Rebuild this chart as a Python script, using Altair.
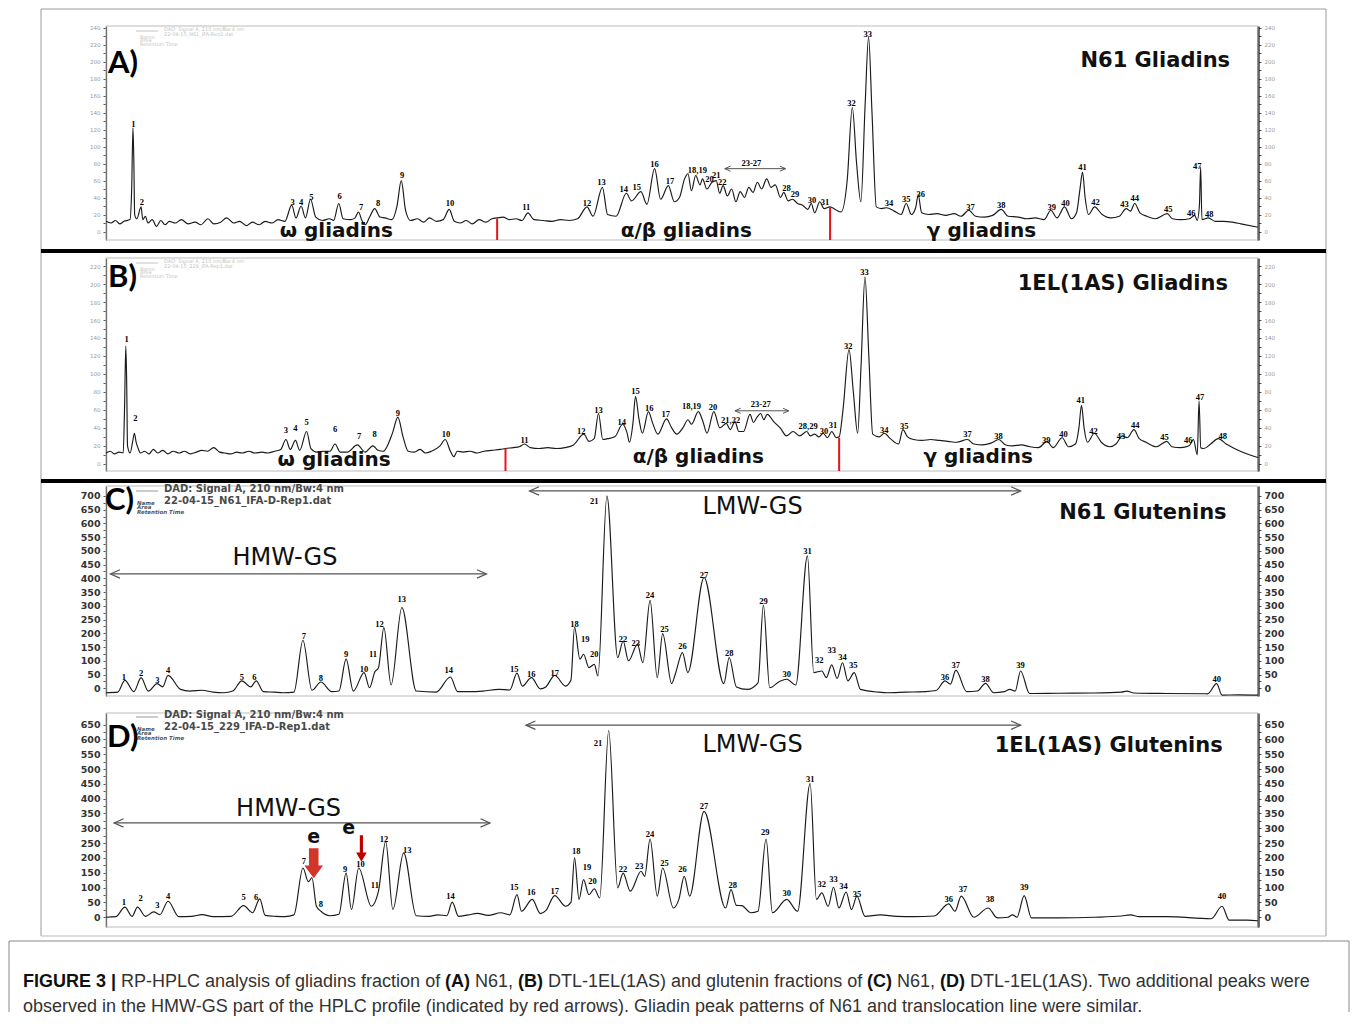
import altair as alt
import pandas as pd

# ============ DATA ============
# Panel A: N61 gliadins - trace vertices (retention time, mAU)
A_trace = [(5.4,12),(6.0,10),(6.5,13),(7.0,9),(7.5,12),(8.2,14),(8.4,50),(8.55,122),(8.65,85),(8.75,20),(9.0,15),(9.5,29),(9.7,14),(10.0,18),(10.3,10),(10.8,14),(11.3,6),(11.8,13),(12.3,8),(12.8,12),(13.5,10),(14.2,14),(15.0,9),(15.8,11),(16.5,8),(17.3,15),(18.0,9),(18.8,11),(19.5,16),(20.3,10),(21.0,12),(21.8,7),(22.5,11),(23.3,8),(24.0,12),(24.8,10),(25.5,14),(26.3,12),(27.1,31),(27.6,16),(28.2,30),(28.7,16),(29.3,38),(29.9,17),(30.7,13),(31.5,15),(32.0,13),(32.6,33),(33.1,15),(34.0,14),(34.5,16),(34.9,23),(35.3,13),(35.7,8),(36.2,17),(36.8,27),(37.4,17),(38.0,16),(38.8,14),(39.4,30),(39.9,60),(40.4,25),(41.0,13),(41.8,15),(42.5,11),(43.2,16),(44.0,12),(44.8,14),(45.5,26),(46.1,12),(46.8,10),(47.5,13),(48.2,9),(49.0,14),(49.8,11),(50.5,15),(51.1,16),(51.8,17),(52.5,14),(53.3,15),(54.0,13),(54.7,22),(55.4,14),(56.5,13),(57.5,12),(58.5,14),(59.5,13),(60.5,15),(61.6,29),(62.3,18),(63.4,52),(64.0,20),(65.0,18),(66.2,45),(66.8,36),(67.9,47),(68.6,32),(69.5,74),(70.2,38),(71.1,54),(71.8,35),(72.4,40),(73.0,62),(73.4,68),(73.8,48),(74.3,66),(74.8,55),(75.1,62),(75.6,50),(76.2,58),(76.7,60),(77.1,45),(77.5,54),(78.0,42),(78.5,50),(79.0,35),(79.5,47),(80.0,40),(80.5,52),(81.0,46),(81.5,58),(82.0,50),(82.6,62),(83.1,52),(83.6,55),(84.2,40),(84.6,46),(85.1,36),(85.6,38),(86.2,33),(86.8,31),(87.4,26),(87.8,33),(88.2,22),(88.8,35),(89.3,27),(90.0,29),(90.6,26),(91.3,23),(92.0,60),(92.6,146),(93.1,80),(93.6,35),(94.1,150),(94.5,229),(94.9,140),(95.4,29),(96.0,27),(96.6,28),(97.5,24),(98.3,20),(98.9,33),(99.5,20),(100.0,28),(100.3,43),(100.7,22),(101.5,20),(102.5,21),(103.5,19),(104.5,21),(105.3,18),(106.2,25),(107.0,18),(108.0,17),(109.0,19),(110.0,26),(110.8,18),(112.0,17),(113.0,15),(114.0,16),(115.0,14),(115.8,25),(116.5,16),(117.4,29),(118.2,15),(118.8,22),(119.2,50),(119.5,70),(119.8,40),(120.2,20),(120.9,29),(121.8,20),(122.8,16),(123.8,18),(124.6,27),(125.1,24),(125.6,33),(126.2,22),(127.0,18),(128.0,15),(129.4,21),(130.0,15),(131.0,14),(132.0,15),(132.6,19),(132.9,13),(133.15,30),(133.3,76),(133.45,14),(134.2,16),(135.0,12),(136.0,12),(137.0,11),(138.0,9),(140.0,5)]
A_peak_names = ["1","2","3","4","5","6","7","8","9","10","11","12","13","14","15","16","17","18,19","20","21","22","28","29","30","31","32","33","34","35","36","37","38","39","40","41","42","43","44","45","46","47","48"]
A_peak_times = [8.6,9.6,27.2,28.2,29.4,32.7,35.2,37.2,40.0,45.6,54.5,61.6,63.3,65.9,67.4,69.5,71.3,74.5,75.9,76.7,77.4,84.9,85.9,87.9,89.4,92.5,94.4,96.9,98.9,100.6,106.4,110.0,115.9,117.5,119.5,121.0,124.4,125.6,129.5,132.2,132.9,134.3]
A_peak_label_y = [127,34.5,34.5,35,41,42,29,33,67,33,29,33,58,50,52,80,60,72,62,66,58,51,44,37,35,151,233,34,38,44,29,31,29,33,76,35,32,40,26,22,77,21]

# Panel B: DTL-1EL(1AS) gliadins
B_trace = [(6.2,12),(6.7,14),(7.2,11),(7.7,13),(8.2,12),(8.35,60),(8.5,131),(8.6,92),(8.7,20),(9.0,12),(9.3,25),(9.5,34),(9.7,24),(9.9,18),(10.2,12),(10.7,14),(11.2,11),(11.7,16),(12.2,12),(12.8,15),(13.4,11),(14.0,14),(14.7,12),(15.3,14),(16.0,11),(16.7,13),(17.3,15),(18.0,14),(18.7,18),(19.4,13),(20.0,12),(20.7,11),(21.4,13),(22.0,12),(22.8,14),(23.5,12),(24.3,13),(25.0,12),(25.8,14),(26.5,16),(27.1,27),(27.6,16),(28.2,26),(28.7,15),(29.5,36),(30.0,17),(30.7,13),(31.5,14),(32.2,14),(32.8,22),(33.4,13),(34.2,13),(35.4,21),(36.3,13),(37.2,20),(37.8,15),(38.4,14),(39.5,35),(40.1,52),(40.7,30),(41.3,14),(42.0,13),(42.7,16),(43.3,12),(44.0,14),(45.0,20),(45.6,27),(46.2,14),(46.6,8),(47.0,14),(47.7,13),(48.5,14),(49.3,12),(50.1,14),(51.0,15),(52.0,16),(52.6,17),(53.5,18),(54.2,19),(54.8,22),(55.5,18),(56.5,17),(57.5,18),(58.5,17),(59.5,18),(60.5,21),(61.7,33),(62.3,25),(62.9,28),(63.4,56),(63.9,27),(64.5,28),(65.3,30),(66.2,44),(66.7,35),(67.0,24),(67.4,45),(67.7,75),(68.1,50),(68.5,34),(69.2,58),(69.7,45),(70.3,33),(71.3,50),(71.9,40),(72.5,33),(73.2,40),(73.8,49),(74.2,44),(75.0,58),(75.5,48),(76.0,34),(76.8,58),(77.5,40),(78.25,45),(78.7,38),(79.25,47),(79.7,36),(80.25,36),(81.0,55),(81.4,46),(81.75,51),(82.25,56),(82.6,49),(83.0,55),(83.75,47),(84.5,40),(85.25,31),(86.0,36),(86.75,31),(87.6,36),(88.0,31),(88.5,33),(89.0,30),(89.5,34),(90.0,29),(90.5,36),(91.0,29),(91.35,30),(91.8,60),(92.5,127),(93.0,80),(93.5,34),(93.9,110),(94.35,208),(94.8,120),(95.25,33),(96.0,30),(96.6,34),(97.3,28),(98.25,22),(98.75,38),(99.3,30),(100.0,27),(101.0,26),(102.0,27),(103.0,26),(104.0,25),(105.0,24),(106.25,27),(107.0,22),(108.0,21),(109.0,23),(109.9,27),(110.7,21),(111.5,20),(112.5,21),(113.5,19),(114.5,18),(115.5,25),(116.2,18),(117.25,29),(118.0,19),(118.8,22),(119.2,40),(119.5,65),(119.8,40),(120.2,24),(121.0,34),(121.8,24),(122.8,19),(123.5,22),(124.25,31),(124.8,29),(125.6,38),(126.2,28),(127.0,24),(128.2,19),(129.4,25),(130.0,19),(131.0,18),(132.0,20),(132.5,27),(132.95,10),(133.15,70),(133.35,18),(133.7,17),(134.5,22),(135.4,28),(136.3,22),(137.5,16),(139.0,10),(140.0,7)]
B_peak_names = ["1","2","3","4","5","6","7","8","9","10","11","12","13","14","15","16","17","18,19","20","21,22","28,29","30","31","32","33","34","35","37","38","39","40","41","42","43","44","45","46","47","48"]
B_peak_times = [8.6,9.6,27.1,28.2,29.5,32.8,35.6,37.4,40.1,45.7,54.8,61.4,63.4,66.1,67.7,69.3,71.2,74.2,76.7,78.75,87.75,89.6,90.65,92.4,94.3,96.6,98.9,106.25,109.85,115.4,117.4,119.4,120.9,124.1,125.75,129.15,131.9,133.25,135.9]
B_peak_label_y = [139,51,38,40,46,39,31,33,57,33,26,37,60,47,81,62,55,64,63,49,42,37,43,131,213,38,42,33,31,26,33,71,37,31,43,30,27,74,31]

# Panel C: N61 glutenins
C_trace = [(41.05,-16),(41.7,-14),(42.1,29),(42.6,-12),(43.0,39),(43.4,-10),(43.9,17),(44.2,5),(44.5,47),(45.2,-4),(45.7,-10),(46.4,-7),(47.0,-14),(47.6,-16),(48.1,-10),(48.6,27),(49.1,5),(49.4,27),(49.8,-12),(50.4,-14),(50.9,-16),(51.5,-14),(52.0,175),(52.5,-7),(53.0,23),(53.6,-12),(54.0,-10),(54.4,106),(54.8,-10),(55.4,57),(55.7,2),(56.0,60),(56.2,75),(56.5,221),(56.9,12),(57.5,294),(58.3,-10),(59.4,-14),(60.2,41),(60.6,-12),(61.3,-12),(62.0,-10),(62.9,-4),(63.5,-6),(63.9,55),(64.2,8),(64.7,39),(65.2,-2),(65.5,5),(66.0,47),(66.6,8),(66.9,30),(67.1,223),(67.4,106),(67.6,124),(67.9,75),(68.2,87),(68.4,45),(68.9,700),(69.5,112),(69.8,172),(70.1,100),(70.6,160),(70.9,93),(71.3,320),(71.7,39),(72.0,199),(72.5,17),(72.7,51),(73.1,130),(73.4,57),(74.3,403),(75.4,17),(75.7,112),(76.1,5),(76.7,-4),(77.3,20),(77.6,303),(77.95,2),(78.5,25),(78.9,33),(79.4,12),(80.05,482),(80.4,57),(80.85,63),(81.1,39),(81.4,85),(81.7,36),(82.0,93),(82.3,27),(82.65,57),(83.0,-4),(84.0,-14),(84.5,-16),(85.5,-14),(86.6,-12),(87.2,-8),(87.7,27),(88.0,15),(88.3,66),(88.9,-12),(89.5,-10),(89.95,18),(90.4,-16),(91.0,-12),(91.3,-4),(91.6,-10),(91.9,63),(92.4,-19),(94.0,-18),(96.0,-17),(97.5,-14),(97.8,-10),(98.2,-17),(100.0,-19),(102.3,-20),(102.8,17),(103.1,-25),(104.0,-24),(105.1,-25)]
C_peak_names = [str(i) for i in range(1, 41)]
C_peak_times = [42.05,43.0,43.9,44.5,48.6,49.3,52.05,53.0,54.4,55.4,55.9,56.25,57.5,60.1,63.75,64.7,66.0,67.1,67.7,68.2,68.2,69.8,70.5,71.3,72.1,73.1,74.3,75.7,77.6,78.9,80.05,80.7,81.4,82.0,82.6,87.7,88.3,89.95,91.9,102.8]
C_peak_label_y = [42,57,30,67,41,41,190,36,123,72,124,235,324,66,69,53,57,233,178,124,682,181,166,339,217,154,411,127,316,51,500,103,140,114,84,41,84,33,84,35]

# Panel D: DTL-1EL(1AS) glutenins
D_trace = [(41.05,0),(41.6,2),(42.1,34),(42.5,3),(42.8,34),(43.25,3),(43.7,18),(44.05,9),(44.5,54),(45.1,2),(45.8,3),(46.4,9),(47.0,2),(48.0,3),(48.7,39),(49.2,15),(49.6,62),(49.9,6),(50.5,3),(51.0,2),(51.5,8),(52.0,166),(52.3,120),(52.5,133),(52.75,37),(53.0,20),(53.5,5),(54.0,10),(54.4,149),(54.7,26),(55.1,166),(55.8,37),(56.2,88),(56.6,256),(57.0,26),(57.6,217),(58.3,5),(59.0,3),(59.5,8),(60.0,5),(60.3,51),(60.65,3),(61.2,8),(61.7,13),(62.3,6),(63.0,15),(63.5,8),(63.9,76),(64.15,20),(64.75,60),(65.2,12),(65.5,22),(66.0,73),(66.6,37),(66.9,50),(67.1,200),(67.35,60),(67.6,127),(67.9,76),(68.2,96),(68.5,65),(69.0,630),(69.5,99),(69.8,149),(70.2,88),(70.8,155),(71.0,138),(71.3,264),(71.7,71),(72.0,166),(72.6,31),(72.9,60),(73.2,138),(73.5,71),(74.3,357),(75.5,31),(75.8,93),(76.1,40),(76.4,39),(76.9,15),(77.3,20),(77.75,264),(78.1,15),(78.9,60),(79.5,20),(80.2,451),(80.55,60),(80.85,82),(81.2,37),(81.5,101),(81.8,31),(82.2,85),(82.5,26),(82.8,71),(83.25,3),(84.1,8),(85.0,3),(86.0,2),(87.1,4),(87.9,45),(88.25,20),(88.6,71),(89.3,0),(90.1,31),(90.6,-2),(91.2,0),(91.45,8),(91.7,0),(92.1,73),(92.5,-2),(94.0,-2),(96.0,0),(97.5,4),(98.0,8),(98.5,2),(100.0,2),(102.5,-5),(103.1,37),(103.5,-10),(104.5,-10),(105.1,-12)]
D_peak_names = [str(i) for i in range(1, 41)]
D_peak_times = [42.05,42.97,43.9,44.5,48.7,49.4,52.05,53.0,54.35,55.2,56.0,56.5,57.8,60.2,63.75,64.7,66.0,67.2,67.8,68.1,68.4,69.8,70.7,71.3,72.1,73.1,74.3,75.9,77.7,78.9,80.2,80.84,81.5,82.05,82.8,87.9,88.7,90.2,92.1,103.1]
D_peak_label_y = [51,65,40,71,67,67,189,45,164,180,110,264,226,71,101,85,90,222,170,121,588,161,172,282,183,161,376,110,287,82,467,112,130,107,80,62,96,60,101,71]

# Region annotations
GLI_regions = ["\u03c9 gliadins", "\u03b1/\u03b2 gliadins", "\u03b3 gliadins"]
A_region_t = [32.3, 73.2, 107.7]
A_region_y = [0.6, 0.6, 0.6]
B_region_t = [32.7, 75.0, 107.5]
B_region_y = [4.0, 8.0, 8.0]
A_bound_t = [51.1, 90.0]
A_bound_top = [15, 29]
B_bound_t = [52.6, 91.35]
B_bound_top = [17, 29]

# Axis tick values
GLI_xticks = list(range(6, 141, 2))
GLU_xticks = list(range(42, 106, 1))
A_yticks = list(range(0, 241, 10))
B_yticks = list(range(0, 221, 10))
C_yticks = list(range(0, 701, 25))
D_yticks = list(range(0, 651, 25))

CAPTION_LINE1 = [("FIGURE 3 |", True), ("RP-HPLC analysis of gliadins fraction of", False), ("(A)", True), ("N61,", False),
                 ("(B)", True), ("DTL-1EL(1AS) and glutenin fractions of", False), ("(C)", True), ("N61,", False),
                 ("(D)", True), ("DTL-1EL(1AS). Two additional peaks were", False)]
CAPTION_LINE2 = "observed in the HMW-GS part of the HPLC profile (indicated by red arrows). Gliadin peak patterns of N61 and translocation line were similar."

# ============ LAYOUT ============
W = 1152
H = 901
DUMMY = pd.DataFrame({"k": [0]})
INK = "#1a1a1a"


def pix_rule(x1, x2, y1, y2, color="#000", width=1.0):
    return alt.Chart(DUMMY).mark_rule(color=color, strokeWidth=width).encode(
        x=alt.value(x1), x2=alt.value(x2), y=alt.value(y1), y2=alt.value(y2))


def pix_rect(x1, x2, y1, y2, color="#bbb", width=1.0):
    return alt.Chart(DUMMY).mark_rect(fillOpacity=0, stroke=color, strokeWidth=width).encode(
        x=alt.value(x1), x2=alt.value(x2), y=alt.value(y1), y2=alt.value(y2))


def pix_text(txt, x, y, **kw):
    return alt.Chart(DUMMY).mark_text(text=txt, align="left", baseline="middle", **kw).encode(
        x=alt.value(x), y=alt.value(y))


def panel(trace, names, times, laby, xdom, ydom, top, bot, xticks, yticks, gli, extras):
    xs = alt.Scale(domain=xdom, range=[0, W], nice=False, zero=False)
    ys = alt.Scale(domain=ydom, range=[bot, top], nice=False, zero=False)
    step = 10 if gli else 5
    ystep = 20 if gli else 50
    if gli:
        lab_style = dict(labelFontSize=5.5, labelColor="#9a9a9a", labelFont="DejaVu Sans")
    else:
        lab_style = dict(labelFontSize=9.5, labelColor="#333", labelFont="DejaVu Sans", labelFontWeight="bold")
    xaxis = alt.Axis(orient="bottom", offset=bot - H, values=xticks,
                     labelExpr=f"datum.value % {step} === 0 ? datum.label : ''",
                     tickSize=3, tickColor="#555", domainColor="#333", grid=False, labelOverlap=False,
                     labelPadding=1, title="Minutes", titleFontSize=5, titleColor="#aaa",
                     titlePadding=0, titleFontWeight="normal", **lab_style)
    yl = alt.Axis(orient="left", values=yticks, labelExpr=f"datum.value % {ystep} === 0 ? datum.label : ''",
                  tickSize=3, tickColor="#555", domainColor="#222", domainWidth=1.2, grid=False,
                  labelOverlap=False, title=None, labelPadding=3, **lab_style)
    yr = alt.Axis(orient="right", values=yticks, labelExpr=f"datum.value % {ystep} === 0 ? datum.label : ''",
                  tickSize=3, tickColor="#555", domainColor="#111", domainWidth=2.2, grid=False,
                  labelOverlap=False, title=None, labelPadding=3, **lab_style)

    tr = pd.DataFrame(trace, columns=["t", "v"])
    line = alt.Chart(tr).mark_line(color=INK, strokeWidth=1.15, interpolate="monotone").encode(
        x=alt.X("t:Q", scale=xs, axis=xaxis),
        y=alt.Y("v:Q", scale=ys, axis=yl))
    lb = pd.DataFrame({"t": times, "v": laby, "n": names})
    labels = alt.Chart(lb).mark_text(font="Liberation Serif", fontWeight="bold", fontSize=8.5, color="#000").encode(
        x=alt.X("t:Q", scale=xs, axis=None),
        y=alt.Y("v:Q", scale=ys, axis=yr),
        text="n:N")
    layers = [line, labels]
    for ex in extras:
        layers.extend(ex(xs, ys))
    return alt.layer(*layers).resolve_axis(y="independent")


def texts(names, ts, vs, **kw):
    def f(xs, ys):
        df = pd.DataFrame({"t": ts, "v": vs, "n": names})
        return [alt.Chart(df).mark_text(**kw).encode(
            x=alt.X("t:Q", scale=xs, axis=None), y=alt.Y("v:Q", scale=ys, axis=None), text="n:N")]
    return f


def red_bounds(ts, tops, ymin):
    def f(xs, ys):
        df = pd.DataFrame({"t": ts, "v": tops, "v0": [ymin] * len(ts)})
        return [alt.Chart(df).mark_rule(color="#e8141b", strokeWidth=2).encode(
            x=alt.X("t:Q", scale=xs, axis=None), y=alt.Y("v:Q", scale=ys, axis=None), y2="v0:Q")]
    return f


def double_arrow(t1, t2, v, color="#555", width=1.2, head=90):
    def f(xs, ys):
        df = pd.DataFrame({"t1": [t1], "t2": [t2], "v": [v]})
        rule = alt.Chart(df).mark_rule(color=color, strokeWidth=width).encode(
            x=alt.X("t1:Q", scale=xs, axis=None), x2="t2:Q", y=alt.Y("v:Q", scale=ys, axis=None))
        lh = alt.Chart(df).mark_point(shape="M1.8,-0.8L0,0L1.8,0.8", filled=False, stroke=color,
                                      strokeWidth=width, size=head, opacity=1).encode(
            x=alt.X("t1:Q", scale=xs, axis=None), y=alt.Y("v:Q", scale=ys, axis=None))
        rh = alt.Chart(df).mark_point(shape="M-1.8,-0.8L0,0L-1.8,0.8", filled=False, stroke=color,
                                      strokeWidth=width, size=head, opacity=1).encode(
            x=alt.X("t2:Q", scale=xs, axis=None), y=alt.Y("v:Q", scale=ys, axis=None))
        return [rule, lh, rh]
    return f


def red_arrows(ts, vs, shapes, sizes, colors):
    def f(xs, ys):
        out = []
        for t, v, s, z, c in zip(ts, vs, shapes, sizes, colors):
            df = pd.DataFrame({"t": [t], "v": [v]})
            out.append(alt.Chart(df).mark_point(shape=s, filled=True, color=c, size=z, opacity=1).encode(
                x=alt.X("t:Q", scale=xs, axis=None), y=alt.Y("v:Q", scale=ys, axis=None)))
        return out
    return f


REG = dict(font="DejaVu Sans", fontWeight="bold", fontSize=20, color="#111")
TTL = dict(font="DejaVu Sans", fontWeight="bold", fontSize=21, color="#111")
GS = dict(font="DejaVu Sans", fontSize=24, color="#111")

pA = panel(A_trace, A_peak_names, A_peak_times, A_peak_label_y, [5.4, 140], [-10, 242], 0, 214,
           GLI_xticks, A_yticks, True,
           [texts(GLI_regions, A_region_t, A_region_y, **REG),
            red_bounds(A_bound_t, A_bound_top, -10),
            double_arrow(77.7, 84.8, 74, head=40, width=1.0),
            texts(["23-27"], [80.8], [81], font="Liberation Serif", fontWeight="bold", fontSize=8.5, color="#000"),
            texts(["N61 Gliadins"], [128.0], [200.8], **TTL)])

pB = panel(B_trace, B_peak_names, B_peak_times, B_peak_label_y, [6.2, 140], [-8, 229], 232, 445,
           GLI_xticks, B_yticks, True,
           [texts(GLI_regions, B_region_t, B_region_y, **REG),
            red_bounds(B_bound_t, B_bound_top, -8),
            double_arrow(79.25, 85.5, 59, head=40, width=1.0),
            texts(["23-27"], [82.25], [67], font="Liberation Serif", fontWeight="bold", fontSize=8.5, color="#000"),
            texts(["1EL(1AS) Gliadins"], [124.3], [200], **TTL)])

pC = panel(C_trace, C_peak_names, C_peak_times, C_peak_label_y, [41.05, 105.1], [-28, 736], 460, 670,
           GLU_xticks, C_yticks, False,
           [double_arrow(64.6, 91.9, 718, head=110),
            double_arrow(41.3, 62.2, 416, head=110),
            texts(["LMW-GS"], [77.0], [660], **GS),
            texts(["HMW-GS"], [51.0], [474], **GS),
            texts(["N61 Glutenins"], [98.7], [638], **TTL)])

ARROW_WIDE = "M-0.32,-1L0.32,-1L0.32,0.15L0.62,0.15L0,1L-0.62,0.15L-0.32,0.15Z"
ARROW_THIN = "M-0.12,-1L0.12,-1L0.12,0.3L0.4,0.3L0,1L-0.4,0.3L-0.12,0.3Z"
pD = panel(D_trace, D_peak_names, D_peak_times, D_peak_label_y, [41.05, 105.1], [-33, 689], 687, 901,
           GLU_xticks, D_yticks, False,
           [double_arrow(64.4, 91.9, 648, head=110),
            double_arrow(41.5, 62.4, 318, head=110),
            texts(["LMW-GS"], [77.0], [581], **GS),
            texts(["HMW-GS"], [51.2], [365], **GS),
            texts(["1EL(1AS) Glutenins"], [96.8], [578], **TTL),
            red_arrows([52.6, 55.25], [182, 232], [ARROW_WIDE, ARROW_THIN], [900, 700], ["#d2362b", "#c00000"]),
            texts(["e", "e"], [52.6, 54.55], [270, 300], font="DejaVu Sans", fontWeight="bold", fontSize=19, color="#111")])

# ---- pixel decorations: frames, separators, panel letters, instrument legends ----
deco = [
    pix_rect(0, W, 0, 214), pix_rect(0, W, 232, 445), pix_rect(0, W, 460, 670), pix_rect(0, W, 687, 901),
]
overlay = [
    pix_rule(-65, -65, -17, 910, "#9a9a9a"), pix_rule(1220, 1220, -17, 910, "#9a9a9a"),
    pix_rule(-65, 1220, -17, -17, "#9a9a9a"), pix_rule(-65, 1220, 910, 910, "#bbbbbb"),
    pix_rule(-65, 1220, 225, 225, "#000", 4), pix_rule(-65, 1220, 455, 455, "#000", 4),
]
LET = dict(font="Lato", fontWeight="bold", fontSize=31, color="#000")
FAINT = dict(font="DejaVu Sans", fontSize=5, color="#c4c4c4")
for (y0, fname) in [(0, "22-04-15_N61_IFA-Rep1.dat"), (232, "22-04-15_229_IFA-Rep1.dat")]:
    overlay += [pix_rule(30, 52, y0 + 5, y0 + 5, "#c4c4c4", 1),
                pix_text("DAD: Signal A, 210 nm/Bw:4 nm", 58, y0 + 3, **FAINT),
                pix_text(fname, 58, y0 + 7.5, **FAINT),
                pix_text("Name", 34, y0 + 10.5, **FAINT),
                pix_text("Area", 34, y0 + 14, **FAINT),
                pix_text("Retention Time", 34, y0 + 17.5, **FAINT)]
LEG = dict(font="DejaVu Sans", fontWeight="bold", fontSize=10, color="#4a4a4a")
SML = dict(font="DejaVu Sans", fontWeight="bold", fontStyle="italic", fontSize=5.5, color="#555")
for (y0, fname) in [(462, "22-04-15_N61_IFA-D-Rep1.dat"), (688, "22-04-15_229_IFA-D-Rep1.dat")]:
    overlay += [pix_rule(30, 52, y0 + 3, y0 + 3, "#999", 1),
                pix_text("DAD: Signal A, 210 nm/Bw:4 nm", 58, y0 + 1, **LEG),
                pix_text(fname, 58, y0 + 13, **LEG),
                pix_text("Name", 31, y0 + 15, **SML),
                pix_text("Area", 31, y0 + 19, **SML),
                pix_text("Retention Time", 31, y0 + 24, **SML)]
overlay += [pix_text("A)", 2, 38, **LET), pix_text("B)", 2, 252, **LET),
            pix_text("C)", -1, 475, **LET), pix_text("D)", 1, 712, **LET)]

# ---- caption ----
CAP_X1 = [-83, 15, 339, 369, 412, 442, 761, 791, 834, 864]
cap = [pix_rule(-97, 1243, 915, 915, "#888"), pix_rule(-97, -97, 915, 986, "#888"),
       pix_rule(1243, 1243, 915, 986, "#888")]
for (txt, bold), x in zip(CAPTION_LINE1, CAP_X1):
    if bold:
        cap.append(pix_text(txt, x, 956, font="Liberation Sans", fontSize=18, fontWeight="bold", color="#111"))
    else:
        cap.append(pix_text(txt, x, 956, font="Liberation Sans", fontSize=18, color="#333"))
cap.append(pix_text(CAPTION_LINE2, -83, 981, font="Liberation Sans", fontSize=18, color="#333"))

chart = alt.layer(*deco, pA, pB, pC, pD, *overlay, *cap).resolve_scale(
    x="independent", y="independent").resolve_axis(x="independent", y="independent").properties(
    width=W, height=H, padding=0, background="white").configure_view(strokeWidth=0)

chart.save("out.html", embed_options={"renderer": "svg", "actions": False})
